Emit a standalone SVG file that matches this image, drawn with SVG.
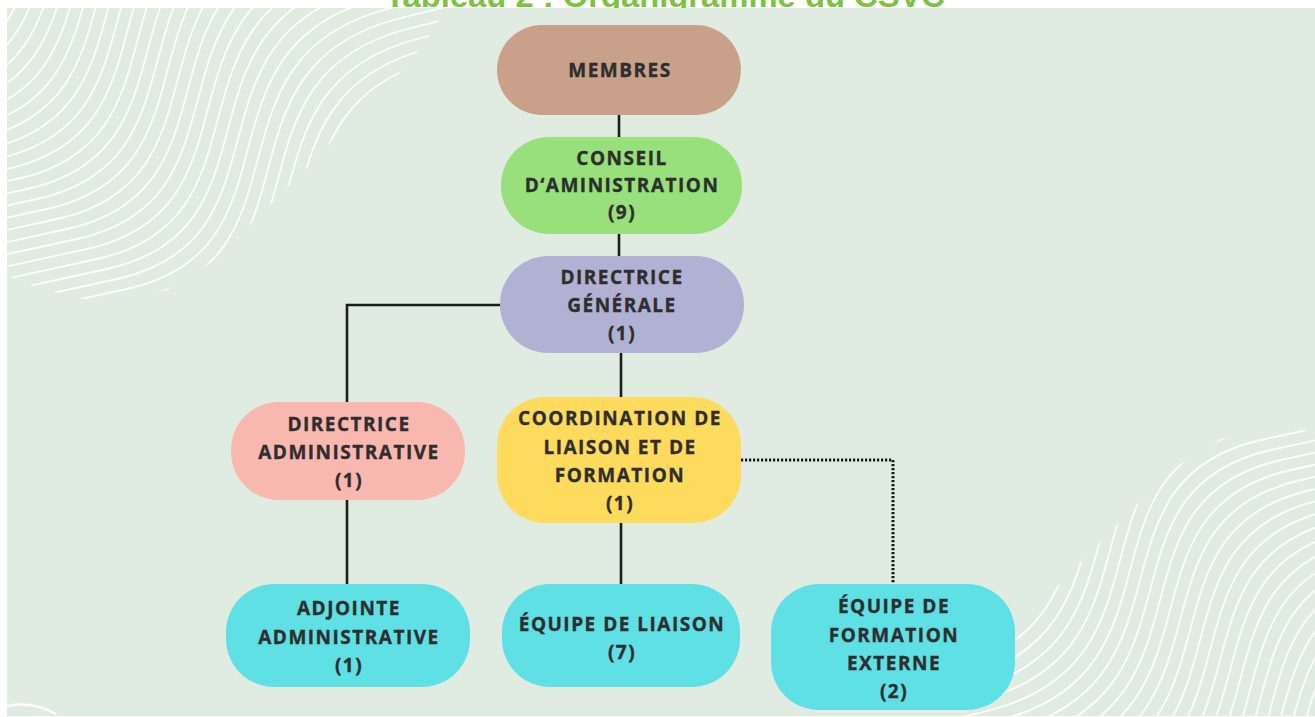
<svg xmlns="http://www.w3.org/2000/svg" xmlns:xlink="http://www.w3.org/1999/xlink" width="1315" height="717" viewBox="0 0 1315 717">
<style>
.title{font-family:"Liberation Sans",Arial,sans-serif;font-weight:700;font-size:32px;fill:#7dc242}
.lbl{font-family:"Open Sans","Liberation Sans",sans-serif;font-weight:700;font-size:19px;letter-spacing:1.5px;fill:#2e2e2e;stroke:#2e2e2e;stroke-width:0.35;text-anchor:middle}
.wave{fill:none;stroke:#ffffff;stroke-width:1.8;stroke-opacity:0.9}
.conn{fill:none;stroke:#1c1c1c;stroke-width:2.6}
.dot{fill:none;stroke:#1c1c1c;stroke-width:3;stroke-dasharray:2.2 1.8}
</style>
<defs>
<path id="w" class="wave" d="M17 386 L187 349 C367 309 247 109 437 59 L597 19"/>
<clipPath id="clipTL">
<polygon points="7,8 450,8 443,12 432,32 415,55 385,90 330,143 303,172 253,222 223,255 167,290 113,302 77,298 23,283 7,275"/>
</clipPath>
<g id="waves">
<use xlink:href="#w"/>
<use xlink:href="#w" transform="translate(-10,-10)"/>
<use xlink:href="#w" transform="translate(-20,-20)"/>
<use xlink:href="#w" transform="translate(-30,-30)"/>
<use xlink:href="#w" transform="translate(-40,-40)"/>
<use xlink:href="#w" transform="translate(-50,-50)"/>
<use xlink:href="#w" transform="translate(-60,-60)"/>
<use xlink:href="#w" transform="translate(-70,-70)"/>
<use xlink:href="#w" transform="translate(-80,-80)"/>
<use xlink:href="#w" transform="translate(-90,-90)"/>
<use xlink:href="#w" transform="translate(-100,-100)"/>
<use xlink:href="#w" transform="translate(-110,-110)"/>
<use xlink:href="#w" transform="translate(-120,-120)"/>
<use xlink:href="#w" transform="translate(-130,-130)"/>
<use xlink:href="#w" transform="translate(-140,-140)"/>
<use xlink:href="#w" transform="translate(-150,-150)"/>
<use xlink:href="#w" transform="translate(-160,-160)"/>
<use xlink:href="#w" transform="translate(-170,-170)"/>
<use xlink:href="#w" transform="translate(-180,-180)"/>
<use xlink:href="#w" transform="translate(-190,-190)"/>
<use xlink:href="#w" transform="translate(-200,-200)"/>
<use xlink:href="#w" transform="translate(-210,-210)"/>
<use xlink:href="#w" transform="translate(-220,-220)"/>
<use xlink:href="#w" transform="translate(-230,-230)"/>
<use xlink:href="#w" transform="translate(-240,-240)"/>
<use xlink:href="#w" transform="translate(-250,-250)"/>
<use xlink:href="#w" transform="translate(-260,-260)"/>
<use xlink:href="#w" transform="translate(-270,-270)"/>
<use xlink:href="#w" transform="translate(-280,-280)"/>
<use xlink:href="#w" transform="translate(-290,-290)"/>
</g>
</defs>
<rect x="0" y="0" width="1315" height="717" fill="#ffffff"/>
<text class="title" x="385" y="7" textLength="560" lengthAdjust="spacingAndGlyphs">Tableau 2 : Organigramme du CSVC</text>
<rect id="panel" x="7" y="8" width="1308" height="708" fill="#e0ebe2"/>
<g id="decor">
<g clip-path="url(#clipTL)"><use xlink:href="#waves"/></g>
<g transform="translate(1388,729) rotate(180)"><g clip-path="url(#clipTL)"><use xlink:href="#waves"/></g></g>
<path d="M7 706 Q32 701 56 714" fill="none" stroke="#ffffff" stroke-width="2.5" stroke-opacity="0.9"/>
</g>
<g id="connectors">
<path class="conn" d="M619 114 V138"/>
<path class="conn" d="M619 233 V257"/>
<path class="conn" d="M501 305 H347 V403"/>
<path class="conn" d="M621 352 V398"/>
<path class="conn" d="M347 499 V585"/>
<path class="conn" d="M621 522 V585"/>
<path class="dot" d="M741 460 H893 V585"/>
</g>
<g id="membres">
<rect x="497" y="25" width="244" height="90" rx="45" fill="#c9a08a"/>
<text class="lbl" x="620" y="77">MEMBRES</text>
</g>
<g id="conseil">
<rect x="501" y="137" width="241" height="97" rx="48" fill="#97e07c"/>
<text class="lbl" x="622" y="165">CONSEIL</text>
<text class="lbl" x="622" y="192">D‘AMINISTRATION</text>
<text class="lbl" x="622" y="219">(9)</text>
</g>
<g id="directrice-generale">
<rect x="500" y="256" width="244" height="97" rx="48" fill="#b1b2d3"/>
<text class="lbl" x="622" y="284">DIRECTRICE</text>
<text class="lbl" x="622" y="312">GÉNÉRALE</text>
<text class="lbl" x="622" y="340">(1)</text>
</g>
<g id="directrice-administrative">
<rect x="231" y="402" width="234" height="98" rx="48" fill="#f8b8b0"/>
<text class="lbl" x="349" y="431">DIRECTRICE</text>
<text class="lbl" x="349" y="459">ADMINISTRATIVE</text>
<text class="lbl" x="349" y="487">(1)</text>
</g>
<g id="coordination">
<rect x="497" y="397" width="244" height="126" rx="48" fill="#fedb5c"/>
<text class="lbl" x="620" y="425">COORDINATION DE</text>
<text class="lbl" x="620" y="454">LIAISON ET DE</text>
<text class="lbl" x="620" y="482">FORMATION</text>
<text class="lbl" x="620" y="510">(1)</text>
</g>
<g id="adjointe">
<rect x="226" y="584" width="244" height="103" rx="48" fill="#5ee0e5"/>
<text class="lbl" x="349" y="615">ADJOINTE</text>
<text class="lbl" x="349" y="644">ADMINISTRATIVE</text>
<text class="lbl" x="349" y="672">(1)</text>
</g>
<g id="equipe-liaison">
<rect x="502" y="584" width="238" height="103" rx="48" fill="#5ee0e5"/>
<text class="lbl" x="622" y="631">ÉQUIPE DE LIAISON</text>
<text class="lbl" x="622" y="659">(7)</text>
</g>
<g id="equipe-formation">
<rect x="771" y="584" width="244" height="126" rx="48" fill="#5ee0e5"/>
<text class="lbl" x="894" y="613">ÉQUIPE DE</text>
<text class="lbl" x="894" y="642">FORMATION</text>
<text class="lbl" x="894" y="670">EXTERNE</text>
<text class="lbl" x="894" y="698">(2)</text>
</g>
</svg>
